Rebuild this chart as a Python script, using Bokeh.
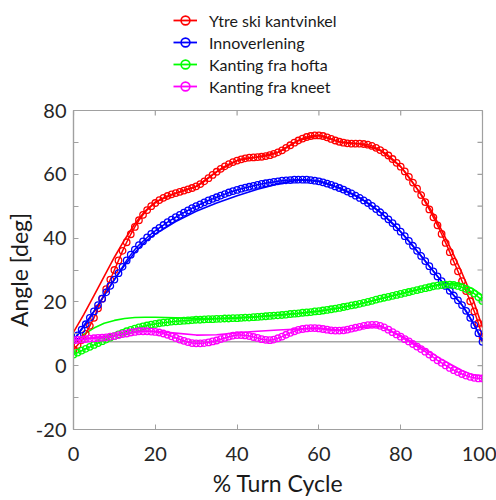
import math
from bokeh.plotting import figure
from bokeh.layouts import column
from bokeh.models import (LinearAxis, FixedTicker, Legend, LegendItem, Range1d)
from bokeh.embed import file_html
from bokeh.resources import INLINE

# ---------------- data ----------------
pct = list(range(0, 101))

ytre_ski = [5, 6.5, 8, 10, 12.5, 15, 18, 21, 24, 27,
            30, 33, 36, 38.7, 41.2, 43.5, 45.6, 47.3, 48.8, 50,
            51, 51.9, 52.6, 53.2, 53.7, 54.1, 54.5, 54.9, 55.3, 55.7,
            56.2, 56.9, 57.8, 58.8, 59.8, 60.8, 61.7, 62.5, 63.2, 63.8,
            64.3, 64.7, 65, 65.2, 65.3, 65.4, 65.5, 65.7, 66, 66.4,
            66.9, 67.5, 68.3, 69.1, 69.9, 70.6, 71.2, 71.7, 72, 72.2,
            72.2, 72, 71.6, 71.1, 70.6, 70.2, 69.9, 69.7, 69.6, 69.6,
            69.6, 69.5, 69.3, 68.9, 68.3, 67.6, 66.8, 65.9, 64.8, 63.6,
            62.4, 60.9, 59.2, 57.4, 55.5, 53.5, 51.3, 49, 46.5, 44,
            41.3, 38.5, 35.6, 32.6, 29.6, 26.5, 23.4, 20.2, 17, 13.3,
            9]

innoverlening = [8, 9.5, 11.3, 13, 15, 17, 19, 21, 23, 25,
                 27, 29, 31, 33, 34.8, 36.4, 37.8, 39, 40.2, 41.3,
                 42.3, 43.2, 44.1, 45, 45.8, 46.6, 47.3, 48, 48.7, 49.4,
                 50, 50.6, 51.2, 51.8, 52.3, 52.8, 53.3, 53.8, 54.3, 54.7,
                 55.1, 55.5, 55.8, 56.1, 56.4, 56.7, 57, 57.2, 57.4, 57.6,
                 57.8, 58, 58.1, 58.2, 58.3, 58.3, 58.3, 58.3, 58.2, 58,
                 57.8, 57.5, 57.1, 56.7, 56.2, 55.7, 55.2, 54.6, 54, 53.3,
                 52.6, 51.8, 51, 50.1, 49.1, 48.1, 47, 45.9, 44.7, 43.4,
                 42, 40.6, 39.1, 37.6, 36, 34.4, 32.8, 31.2, 29.6, 28,
                 26.5, 25, 23.5, 22, 20.5, 19, 17.2, 15, 12.7, 10.2,
                 7.5]

hofta = [3.5, 4.1, 4.7, 5.3, 5.9, 6.5, 7.1, 7.7, 8.2, 8.8,
         9.3, 9.8, 10.3, 10.8, 11.2, 11.6, 12, 12.3, 12.6, 12.9,
         13.1, 13.3, 13.5, 13.6, 13.8, 13.9, 14, 14.1, 14.2, 14.3,
         14.4, 14.4, 14.5, 14.6, 14.6, 14.7, 14.7, 14.8, 14.8, 14.9,
         14.9, 15, 15.1, 15.1, 15.2, 15.3, 15.4, 15.5, 15.6, 15.7,
         15.8, 15.9, 16, 16.2, 16.3, 16.4, 16.6, 16.7, 16.8, 17,
         17.1, 17.3, 17.5, 17.7, 17.9, 18.1, 18.4, 18.6, 18.9, 19.1,
         19.4, 19.7, 20, 20.3, 20.7, 21, 21.3, 21.6, 21.9, 22.2,
         22.5, 22.8, 23.1, 23.4, 23.7, 24, 24.3, 24.6, 24.9, 25.1,
         25.3, 25.4, 25.4, 25.3, 25, 24.6, 24.1, 23.4, 22.6, 21.5,
         20.3]

kneet = [8, 8.1, 8.2, 8.3, 8.5, 8.6, 8.7, 8.8, 8.9, 9.1,
         9.3, 9.6, 9.9, 10.1, 10.4, 10.6, 10.8, 10.8, 10.8, 10.7,
         10.6, 10.4, 10.1, 9.7, 9.2, 8.7, 8.2, 7.8, 7.4, 7.1,
         7, 7, 7.1, 7.3, 7.6, 7.9, 8.3, 8.7, 9.1, 9.4,
         9.6, 9.6, 9.5, 9.3, 9, 8.7, 8.3, 8.1, 8, 8.2,
         8.6, 9.1, 9.7, 10.3, 10.8, 11.2, 11.5, 11.7, 11.8, 11.8,
         11.7, 11.5, 11.3, 11.1, 11, 11, 11.1, 11.3, 11.6, 11.9,
         12.2, 12.5, 12.7, 12.8, 12.8, 12.5, 12, 11.3, 10.5, 9.8,
         9.1, 8.3, 7.6, 6.8, 6, 5.2, 4.4, 3.5, 2.6, 1.7,
         0.9, 0.1, -0.7, -1.4, -2, -2.6, -3.1, -3.5, -3.8, -4,
         -4]

# second (thin, no marker) curves
pct_thin = [0, 2.5, 5, 7.5, 10, 12.5, 15, 17.5, 20, 25, 30, 35, 40, 45, 50,
            55, 60, 65, 70, 75, 80, 85, 87.5, 90, 92.5, 95, 97.5, 100]
ytre_ski_thin = [10.5, 16, 22, 28, 34, 39.5, 44.5, 48.5, 51.3, 54.1, 56.2, 60.8,
                 64.3, 65.4, 66.9, 70.6, 72.2, 70.2, 69.6, 67.5, 62.4, 53.7,
                 48.6, 42.5, 36, 29, 21.5, 12]
innoverlening_thin = [8, 12.5, 17, 22, 27, 31.5, 35.5, 38.8, 41.3, 45.2, 48.4,
                      51, 53.3, 55.3, 57, 58.2, 57.8, 55.7, 52.6, 48.1, 42, 34.4,
                      30.4, 26.5, 22.8, 19, 13.8, 8]
hofta_thin = [7, 9.8, 11.8, 13.3, 14.2, 14.8, 15.1, 15.2, 15.2, 15, 14.8, 14.8,
              15, 15.4, 15.9, 16.4, 17.1, 18.1, 19.4, 21, 22.6, 24.2, 25, 25.6,
              25.8, 25.5, 24.2, 22]
kneet_thin = [8, 8.4, 8.8, 9.2, 9.6, 10.1, 10.5, 10.8, 10.8, 10.2, 9.6, 9.7,
              10.3, 10.8, 11.2, 11.5, 11.7, 11.2, 12, 12.3, 9.5, 5.8, 4, 2,
              0.2, -1.5, -2.8, -3.2]

ref_level = [7.5, 7.5]
ref_x = [0, 100]

labels = ["Ytre ski kantvinkel", "Innoverlening", "Kanting fra hofta", "Kanting fra kneet"]
colors = ["#ff0000", "#0000ff", "#00ff00", "#ff00ff"]
y_major = [-20, 0, 20, 40, 60, 80]
y_minor = [-10, 10, 30, 50, 70]
x_major = [0, 20, 40, 60, 80, 100]

FONT = "Lato"
AX = "#a0a0a0"
NAN = float("nan")
W = 496
LEFT, RIGHT = 73, 14

# ---------------- legend strip ----------------
LEG_H = 96
lf = figure(width=W, height=LEG_H, output_backend="svg", toolbar_location=None,
            x_range=Range1d(0, 1), y_range=Range1d(0, 1),
            x_axis_location=None, y_axis_location=None,
            min_border_left=LEFT, min_border_right=RIGHT, min_border_top=0,
            min_border_bottom=0)
lf.grid.visible = False
lf.outline_line_color = None

items = []
for c, lab in zip(colors, labels):
    r_line = lf.line([NAN], [NAN], line_color=c, line_width=1.8)
    r_mark = lf.scatter([NAN], [NAN], marker="circle", size=9, fill_color=None,
                        line_color=c, line_width=1.6)
    items.append(LegendItem(label=lab, renderers=[r_line, r_mark]))

legend = Legend(items=items, location=(100, -1))
legend.background_fill_alpha = 0
legend.border_line_color = None
legend.padding = 0
legend.margin = 0
legend.spacing = 0
legend.glyph_width = 24
legend.glyph_height = 22
legend.label_height = 22
legend.label_standoff = 12
legend.label_text_font = FONT
legend.label_text_font_size = "16px"
legend.label_text_color = "#1a1a1a"
lf.add_layout(legend, "center")

# ---------------- main figure ----------------
p = figure(width=W, height=499 - LEG_H, output_backend="svg", toolbar_location=None,
           x_range=Range1d(0, 100), y_range=Range1d(-20, 80),
           x_axis_location=None, y_axis_location=None,
           min_border_left=LEFT, min_border_right=RIGHT, min_border_top=110 - LEG_H,
           min_border_bottom=67)
p.grid.visible = False
p.outline_line_color = AX
p.outline_line_width = 1.2
p.background_fill_color = "white"
p.border_fill_color = "white"


def make_axis(ticks, minor, label):
    ax = LinearAxis(ticker=FixedTicker(ticks=ticks, minor_ticks=minor))
    ax.axis_line_color = AX
    ax.axis_line_width = 1.2
    ax.major_tick_line_color = AX
    ax.minor_tick_line_color = AX
    ax.major_tick_in = 5
    ax.major_tick_out = 0
    ax.minor_tick_in = 5
    ax.minor_tick_out = 0
    ax.major_label_text_font = FONT
    ax.major_label_text_font_size = "20px"
    ax.major_label_text_color = "#262626"
    ax.axis_label = label
    ax.axis_label_text_font = FONT
    ax.axis_label_text_font_size = "23px"
    ax.axis_label_text_font_style = "normal"
    ax.axis_label_text_color = "#1a1a1a"
    return ax


left = make_axis(y_major, y_minor, "Angle [deg]")
left.major_label_overrides = {t: str(t) for t in y_major}
left.major_label_standoff = 7
left.axis_label_standoff = 0
bottom = make_axis(x_major, [], "% Turn Cycle")
bottom.major_label_standoff = 17
bottom.axis_label_standoff = 5
p.add_layout(left, "left")
p.add_layout(bottom, "below")

# inward tick marks on the top and right edges of the box
y_all = sorted(y_major + y_minor)
p.ray(x=[p.x_range.end] * len(y_all), y=y_all, length=5, length_units="screen",
      angle=math.pi, line_color=AX, line_width=1.2)
p.ray(x=x_major, y=[p.y_range.end] * len(x_major), length=5, length_units="screen",
      angle=-math.pi / 2, line_color=AX, line_width=1.2)

# reference line
p.line(ref_x, ref_level, line_color="#a6a6a6", line_width=1.5)

thin_sets = [ytre_ski_thin, innoverlening_thin, hofta_thin, kneet_thin]
mark_sets = [ytre_ski, innoverlening, hofta, kneet]

for ys, c in zip(thin_sets, colors):
    p.line(pct_thin, ys, line_color=c, line_width=1.6)

for ys, c in zip(mark_sets, colors):
    p.line(pct, ys, line_color=c, line_width=1.5)
    p.scatter(pct, ys, marker="circle", size=6.5, fill_color=None,
              line_color=c, line_width=1.3)

layout = column(lf, p, spacing=0)
open("out.html", "w").write(file_html(layout, INLINE))
